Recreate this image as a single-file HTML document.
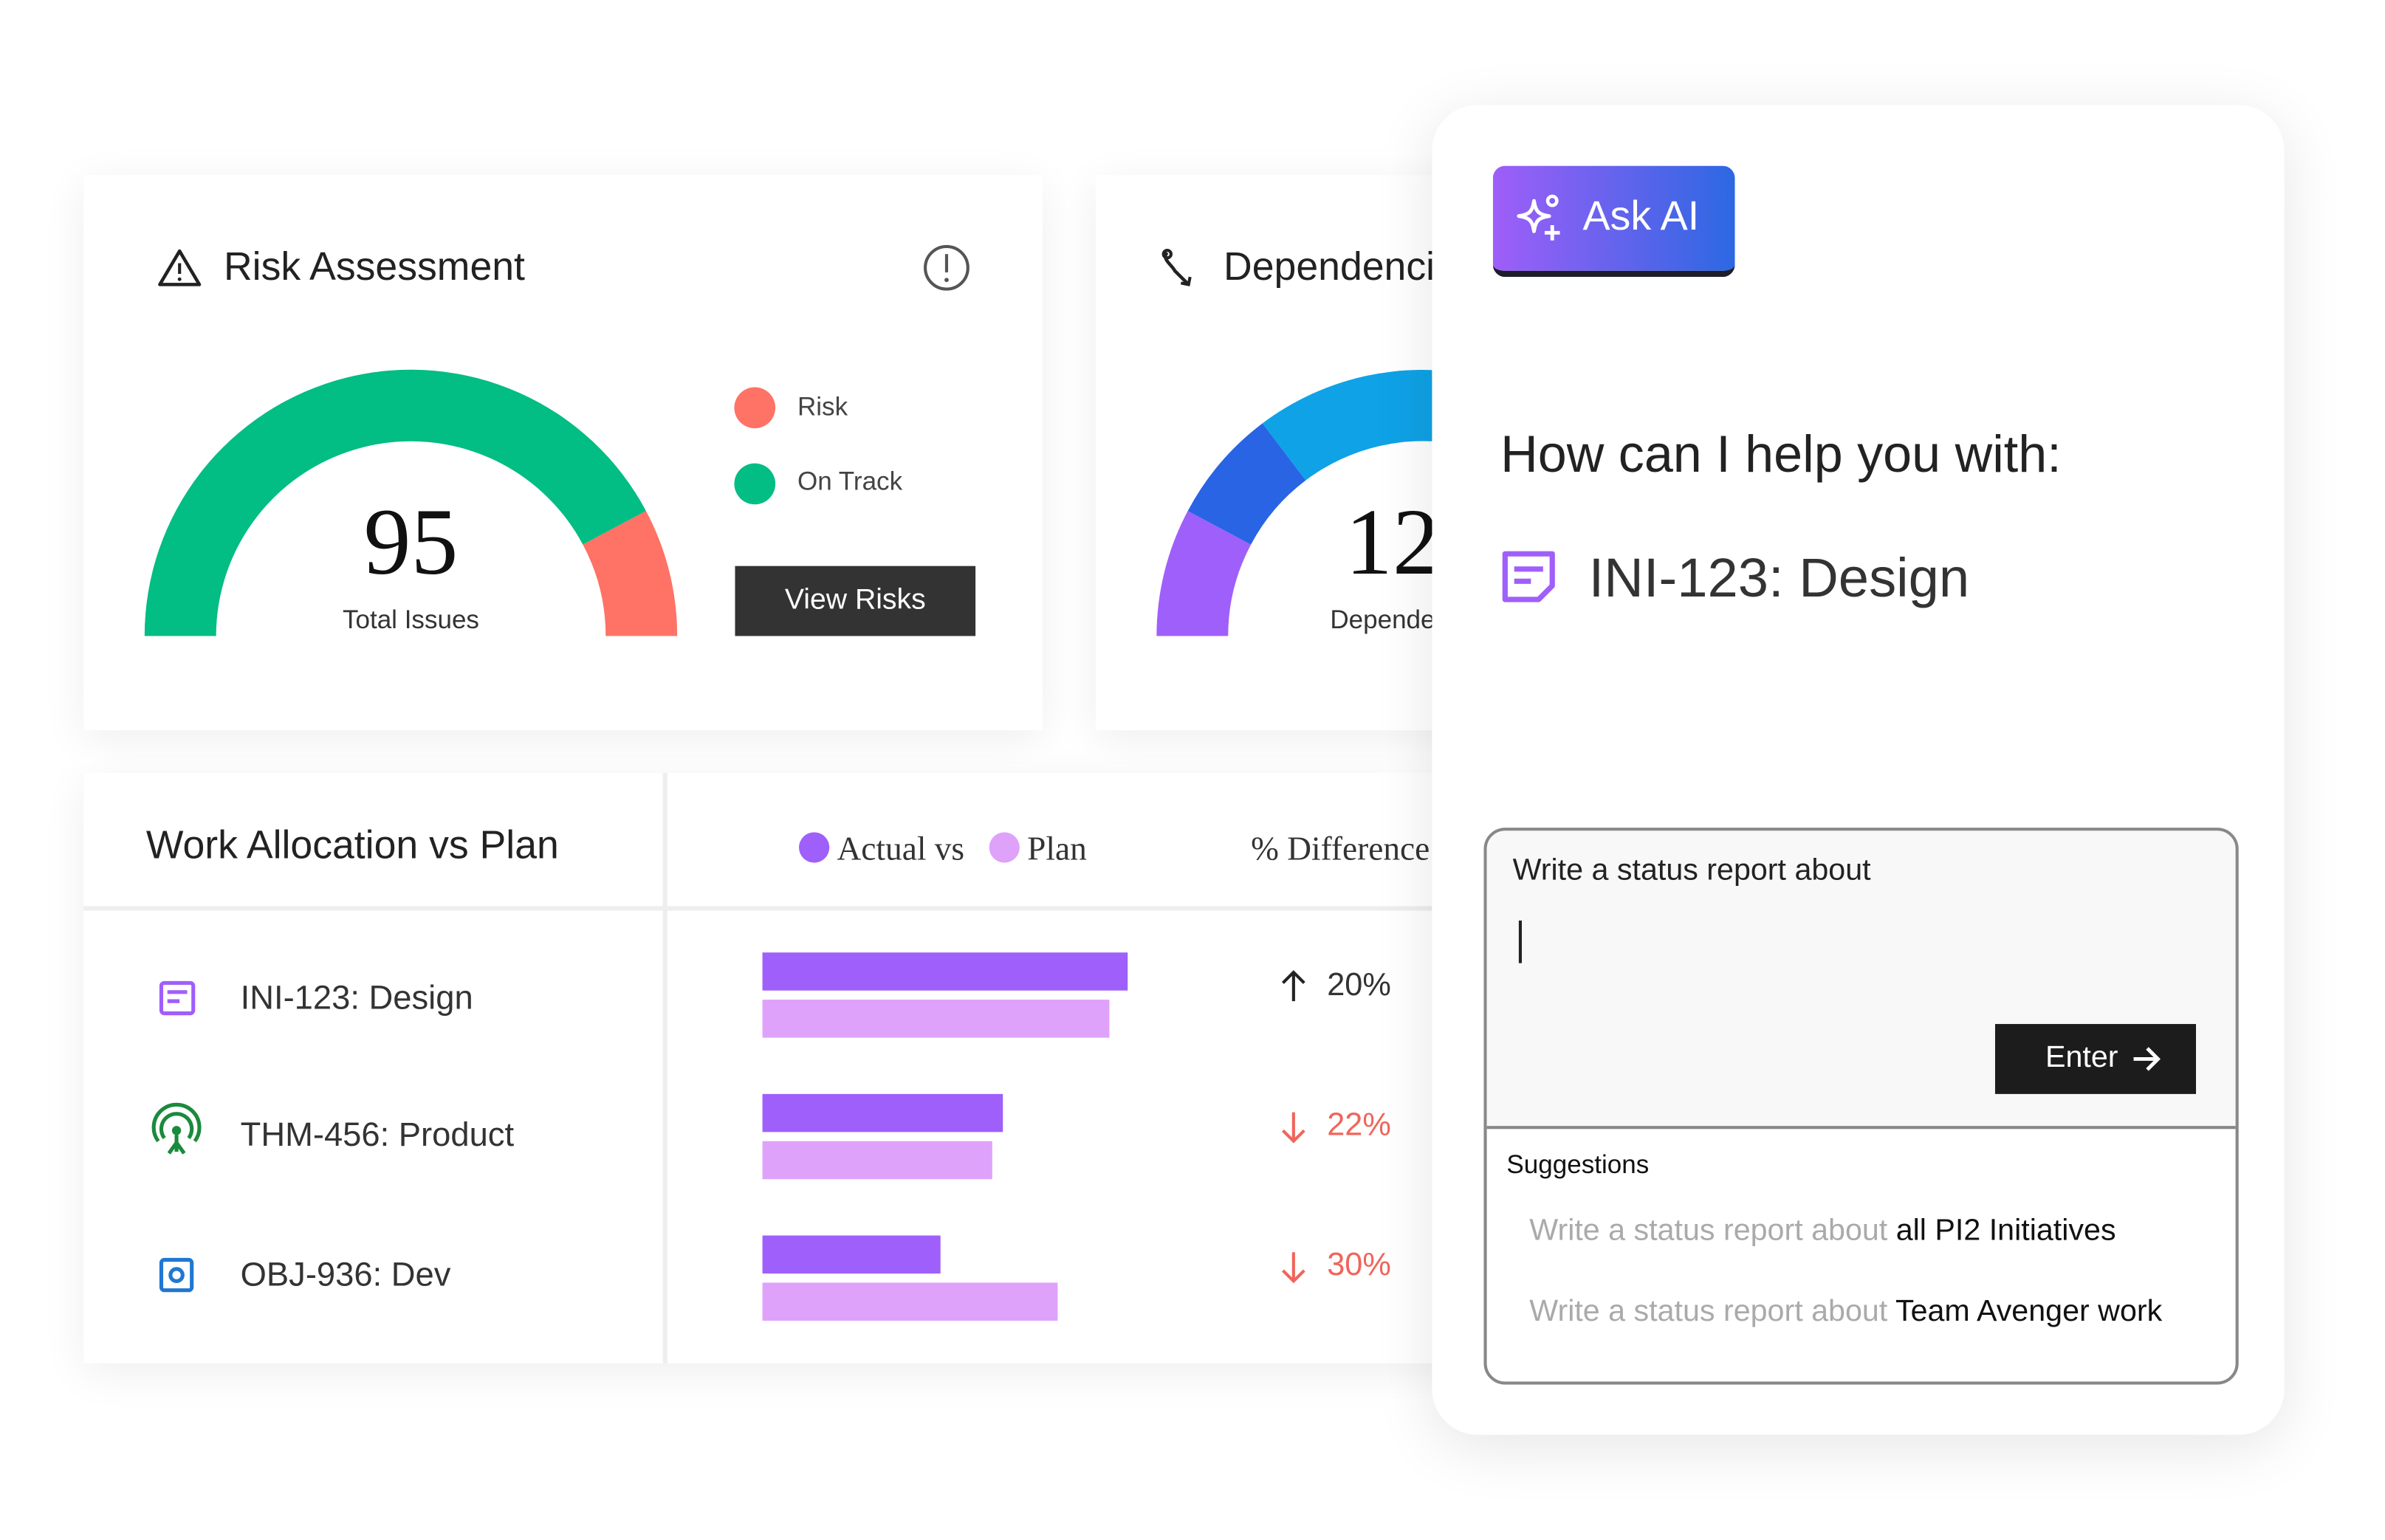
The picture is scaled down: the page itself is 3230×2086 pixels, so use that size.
<!DOCTYPE html>
<html><head><meta charset="utf-8">
<style>
html,body{margin:0;padding:0;background:#fff;}
body{width:3230px;height:2085px;overflow:hidden;position:relative;font-family:"Liberation Sans",sans-serif;}
#w{position:absolute;left:0;top:0;width:1570px;height:1012px;transform:scale(2.061);transform-origin:0 0;}
.a{position:absolute;white-space:nowrap;}
.card{position:absolute;background:#fff;box-shadow:0 6px 28px rgba(0,0,0,0.07);}
</style></head><body>
<div id="w">
<div class="card" style="left:55px;top:115px;width:630px;height:365px;"></div>
<div class="card" style="left:720px;top:115px;width:400px;height:365px;"></div>
<div class="card" style="left:55px;top:508px;width:1000px;height:388px;"></div>

<svg class="a" style="left:0;top:0" width="1560" height="1007">
 <path d="M118 165 L131 187 L105 187 Z" fill="none" stroke="#222" stroke-width="2.2" stroke-linejoin="round"/>
 <line x1="118" y1="173" x2="118" y2="180" stroke="#222" stroke-width="2"/>
 <circle cx="118" cy="183.5" r="1.2" fill="#222"/>
 <circle cx="622" cy="176" r="14" fill="none" stroke="#555" stroke-width="2"/>
 <line x1="622" y1="167" x2="622" y2="179" stroke="#555" stroke-width="2"/>
 <circle cx="622" cy="184" r="1.4" fill="#555"/>
 <path d="M95 418 A175 175 0 0 1 424.5 335.8 L383 357.9 A128 128 0 0 0 142 418 Z" fill="#02bd84"/>
 <path d="M424.5 335.8 A175 175 0 0 1 445 418 L398 418 A128 128 0 0 0 383 357.9 Z" fill="#ff7266"/>
 <circle cx="496" cy="268" r="13.5" fill="#ff7266"/>
 <circle cx="496" cy="318" r="13.5" fill="#02bd84"/>
 <path d="M767 166 C763 170,770 174,772 178 L780 186" fill="none" stroke="#222" stroke-width="2.2"/>
 <circle cx="767" cy="167" r="2.5" fill="none" stroke="#222" stroke-width="2"/>
 <path d="M776 186 L781 187 L782 182" fill="none" stroke="#222" stroke-width="2"/>
 <path d="M760 418 A175 175 0 0 1 780.5 335.8 L822 357.9 A128 128 0 0 0 807 418 Z" fill="#9f5ffb"/>
 <path d="M780.5 335.8 A175 175 0 0 1 829.6 278.2 L858 315.7 A128 128 0 0 0 822 357.9 Z" fill="#2864e4"/>
 <path d="M829.6 278.2 A175 175 0 0 1 1086 330 L1046 354 A128 128 0 0 0 858 315.7 Z" fill="#0fa2e6"/>
 <line x1="55" y1="597" x2="1000" y2="597" stroke="#eeeeee" stroke-width="3"/>
 <line x1="437" y1="508" x2="437" y2="896" stroke="#eeeeee" stroke-width="3"/>
 <circle cx="535" cy="557" r="10" fill="#9f5ffb"/>
 <circle cx="660" cy="557" r="10" fill="#dea2fb"/>
 <rect x="106" y="646" width="21" height="20" rx="2" fill="none" stroke="#9f5ffb" stroke-width="2.5"/>
 <line x1="110" y1="652" x2="123" y2="652" stroke="#9f5ffb" stroke-width="2.5"/>
 <line x1="110" y1="658" x2="118" y2="658" stroke="#9f5ffb" stroke-width="2.5"/>
 <circle cx="116" cy="743" r="3" fill="#1b8a3d"/>
 <path d="M108 748 A10 10 0 1 1 124 748" fill="none" stroke="#1b8a3d" stroke-width="2.5"/>
 <path d="M104 750 A15 15 0 1 1 128 750" fill="none" stroke="#1b8a3d" stroke-width="2.5"/>
 <path d="M116 746 L116 757 M111 758 L116 751 L121 758" fill="none" stroke="#1b8a3d" stroke-width="2.5"/>
 <rect x="106" y="828" width="20" height="20" rx="2" fill="none" stroke="#1f78d1" stroke-width="2.5"/>
 <circle cx="116" cy="838" r="4" fill="none" stroke="#1f78d1" stroke-width="2.5"/>
 <rect x="501" y="626" width="240" height="25" fill="#9f5ffb"/>
 <rect x="501" y="657" width="228" height="25" fill="#dea2fb"/>
 <rect x="501" y="719" width="158" height="25" fill="#9f5ffb"/>
 <rect x="501" y="750" width="151" height="25" fill="#dea2fb"/>
 <rect x="501" y="812" width="117" height="25" fill="#9f5ffb"/>
 <rect x="501" y="843" width="194" height="25" fill="#dea2fb"/>
 <path d="M850 658 L850 639 M843 646 L850 639 L857 646" fill="none" stroke="#222" stroke-width="2"/>
 <path d="M850 731 L850 750 M843 743 L850 750 L857 743" fill="none" stroke="#f0655a" stroke-width="2"/>
 <path d="M850 823 L850 842 M843 835 L850 842 L857 835" fill="none" stroke="#f0655a" stroke-width="2"/>
</svg>

<div class="a" style="left:147px;top:160px;font-size:26px;color:#222;">Risk Assessment</div>
<div class="a" style="left:170px;top:322px;width:200px;text-align:center;font-family:'Liberation Serif',serif;font-size:62px;color:#111;">95</div>
<div class="a" style="left:170px;top:398px;width:200px;text-align:center;font-size:17px;color:#333;">Total Issues</div>
<div class="a" style="left:524px;top:258px;font-size:17px;color:#444;">Risk</div>
<div class="a" style="left:524px;top:307px;font-size:17px;color:#444;">On Track</div>
<div class="a" style="left:483px;top:372px;width:158px;height:46px;background:#333;color:#fff;font-size:19px;line-height:46px;text-align:center;">View Risks</div>
<div class="a" style="left:804px;top:160px;font-size:26px;color:#222;">Dependencies</div>
<div class="a" style="left:884px;top:322px;font-family:'Liberation Serif',serif;font-size:62px;color:#111;">12</div>
<div class="a" style="left:874px;top:398px;font-size:17px;color:#333;">Dependencies</div>

<div class="a" style="left:96px;top:540px;font-size:26px;color:#222;">Work Allocation vs Plan</div>
<div class="a" style="left:550px;top:545px;font-family:'Liberation Serif',serif;font-size:22px;color:#333;">Actual vs</div>
<div class="a" style="left:675px;top:545px;font-family:'Liberation Serif',serif;font-size:22px;color:#333;">Plan</div>
<div class="a" style="left:822px;top:545px;font-family:'Liberation Serif',serif;font-size:22px;color:#333;">% Difference</div>
<div class="a" style="left:158px;top:643px;font-size:22px;color:#333;">INI-123: Design</div>
<div class="a" style="left:158px;top:733px;font-size:22px;color:#333;">THM-456: Product</div>
<div class="a" style="left:158px;top:825px;font-size:22px;color:#333;">OBJ-936: Dev</div>
<div class="a" style="left:872px;top:636px;font-size:21px;color:#333;">20%</div>
<div class="a" style="left:872px;top:728px;font-size:21px;color:#f0655a;">22%</div>
<div class="a" style="left:872px;top:820px;font-size:21px;color:#f0655a;">30%</div>

<div class="a" style="left:941px;top:69px;width:560px;height:874px;background:#fff;border-radius:30px;box-shadow:0 8px 40px rgba(0,0,0,0.10);"></div>
<div class="a" style="left:981px;top:109px;width:159px;height:69px;border-radius:8px;background:linear-gradient(90deg,#9f5ef8,#2c68e2);border-bottom:4px solid #1d1d2b;"></div>
<svg class="a" style="left:994px;top:126px" width="34" height="36">
 <path d="M14 6 C15 13,17 15,24 16 C17 17,15 19,14 26 C13 19,11 17,4 16 C11 15,13 13,14 6 Z" fill="none" stroke="#fff" stroke-width="2.4" stroke-linejoin="round"/>
 <circle cx="26" cy="6" r="3" fill="none" stroke="#fff" stroke-width="2.2"/>
 <path d="M26 22 L26 32 M21 27 L31 27" stroke="#fff" stroke-width="2.4"/>
</svg>
<div class="a" style="left:1040px;top:127px;font-size:27px;color:#fff;">Ask AI</div>
<div class="a" style="left:986px;top:280px;font-size:34px;color:#222;">How can I help you with:</div>
<svg class="a" style="left:986px;top:361px" width="38" height="36">
 <path d="M3 3 H34 V24 L25 33 H3 Z" fill="none" stroke="#9f5ffb" stroke-width="3.5" stroke-linejoin="round"/>
 <line x1="9" y1="13" x2="28" y2="13" stroke="#9f5ffb" stroke-width="3.5"/>
 <line x1="9" y1="21" x2="20" y2="21" stroke="#9f5ffb" stroke-width="3.5"/>
</svg>
<div class="a" style="left:1044px;top:359px;font-size:36px;color:#333;font-weight:500;">INI-123: Design</div>

<div class="a" style="left:975px;top:544px;width:492px;height:362px;border:2px solid #888;border-radius:14px;overflow:hidden;background:#fff;">
 <div style="position:absolute;left:0;top:0;width:100%;height:194px;background:#f8f8f8;border-bottom:2px solid #888;"></div>
</div>
<div class="a" style="left:994px;top:561px;font-size:20px;color:#222;">Write a status report about</div>
<div class="a" style="left:998px;top:605px;width:2px;height:28px;background:#222;"></div>
<div class="a" style="left:1311px;top:673px;width:132px;height:46px;background:#1c1c1c;"></div>
<div class="a" style="left:1344px;top:684px;font-size:20px;color:#fff;">Enter</div>
<svg class="a" style="left:1400px;top:686px" width="22" height="20">
 <path d="M2 10 H18 M11 3 L18 10 L11 17" fill="none" stroke="#fff" stroke-width="2.4"/>
</svg>
<div class="a" style="left:990px;top:756px;font-size:17px;color:#111;">Suggestions</div>
<div class="a" style="left:1005px;top:798px;font-size:20px;color:#aaa;">Write a status report about <span style="color:#111">all PI2 Initiatives</span></div>
<div class="a" style="left:1005px;top:851px;font-size:20px;color:#aaa;">Write a status report about <span style="color:#111">Team Avenger work</span></div>
</div>
</body></html>
